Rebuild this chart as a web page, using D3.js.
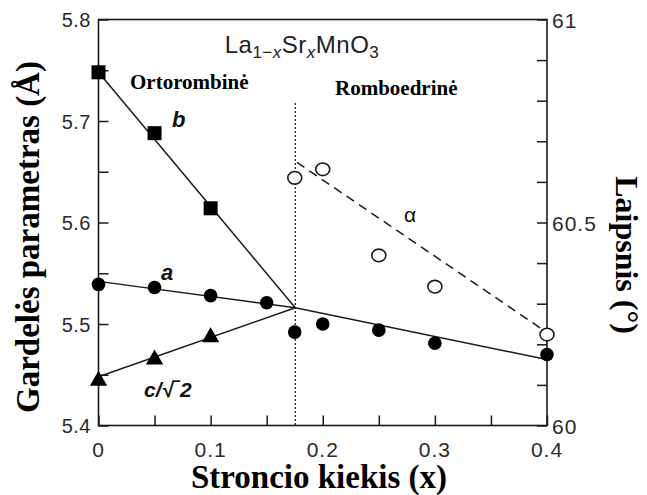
<!DOCTYPE html>
<html>
<head>
<meta charset="utf-8">
<script src="https://cdn.jsdelivr.net/npm/d3@7"></script>
<style>
  html, body { margin: 0; padding: 0; background: #fff; }
  svg { display: block; }
</style>
</head>
<body>
<svg id="chart" width="647" height="495"></svg>
<script>
// Strontium content (x) and lattice parameters of La(1-x)Sr(x)MnO3
const xB = [0, 0.05, 0.1];
const bValues = [5.748, 5.688, 5.614];

const xA = [0, 0.05, 0.1, 0.15, 0.175, 0.2, 0.25, 0.3, 0.4];
const aValues = [5.539, 5.536, 5.528, 5.521, 5.492, 5.500, 5.494, 5.481, 5.470];

const xC = [0, 0.05, 0.1];
const cValues = [5.443, 5.464, 5.486];

// rhombohedral angle (degrees), right axis
const xAlpha = [0.175, 0.2, 0.25, 0.3, 0.4];
const alphaValues = [60.610, 60.631, 60.419, 60.342, 60.224];

// guide lines drawn through the data
const bLine = [[0, 5.748], [0.1755, 5.516]];
const aLine = [[0, 5.542], [0.1755, 5.516], [0.4, 5.465]];
const cLine = [[0, 5.448], [0.1755, 5.516]];
const alphaLine = [[0.177, 60.648], [0.4, 60.229]];
const phaseBoundary = 0.1755;

const xTicks = [0, 0.1, 0.2, 0.3, 0.4];
const xMinorTicks = [0, 0.05, 0.1, 0.15, 0.2, 0.25, 0.3, 0.35, 0.4];
const yTicks = [5.4, 5.5, 5.6, 5.7, 5.8];
const yMinorTicks = [5.4, 5.45, 5.5, 5.55, 5.6, 5.65, 5.7, 5.75, 5.8];
const y2Ticks = [60, 60.5, 61];
const y2MinorTicks = [60, 60.1, 60.2, 60.3, 60.4, 60.5, 60.6, 60.7, 60.8, 60.9, 61];

const svg = d3.select("#chart");
const L = 98.5, R = 547, T = 19.5, B = 425.5;

const x = d3.scaleLinear().domain([0, 0.4]).range([L, R]);
const y = d3.scaleLinear().domain([5.4, 5.8]).range([B, T]);
const y2 = d3.scaleLinear().domain([60, 61]).range([B, T]);

const ink = "#1a1a1a";
const tickFont = "'Liberation Sans', Arial, sans-serif";
const serif = "'Liberation Serif', 'Times New Roman', serif";

// frame
svg.append("rect")
  .attr("x", L).attr("y", T).attr("width", R - L).attr("height", B - T)
  .attr("fill", "none").attr("stroke", ink).attr("stroke-width", 1.6);

// axes (ticks pointing inwards)
const gx = svg.append("g").attr("transform", `translate(0,${B})`)
  .call(d3.axisBottom(x).tickValues(xMinorTicks).tickSize(-10).tickFormat(""));
const gy = svg.append("g").attr("transform", `translate(${L},0)`)
  .call(d3.axisLeft(y).tickValues(yMinorTicks).tickSize(-10).tickFormat(""));
const gy2 = svg.append("g").attr("transform", `translate(${R},0)`)
  .call(d3.axisRight(y2).tickValues(y2MinorTicks).tickSize(-10).tickFormat(""));
[gx, gy, gy2].forEach(g => {
  g.select(".domain").remove();
  g.selectAll("line").attr("stroke", ink).attr("stroke-width", 1.5);
});

// tick labels
svg.append("g").selectAll("text").data(xTicks).join("text")
  .attr("x", d => x(d)).attr("y", 457)
  .attr("text-anchor", "middle")
  .attr("font-family", tickFont).attr("font-size", 21)
  .attr("letter-spacing", 1)
  .attr("fill", "#2a2a2a")
  .text(d => d === 0 ? "0" : d3.format(".1f")(d));

svg.append("g").selectAll("text").data(yTicks).join("text")
  .attr("x", 91).attr("y", d => y(d) + 7.5)
  .attr("text-anchor", "end")
  .attr("font-family", tickFont).attr("font-size", 20)
  .attr("letter-spacing", 0.5)
  .attr("fill", "#2a2a2a")
  .text(d => d3.format(".1f")(d));

svg.append("g").selectAll("text").data(y2Ticks).join("text")
  .attr("x", 552).attr("y", d => y2(d) + 8)
  .attr("text-anchor", "start")
  .attr("font-family", tickFont).attr("font-size", 21)
  .attr("letter-spacing", 1)
  .attr("fill", "#2a2a2a")
  .text(d => d3.format("~g")(d));

// phase boundary
svg.append("line")
  .attr("x1", x(phaseBoundary)).attr("x2", x(phaseBoundary))
  .attr("y1", 103).attr("y2", B)
  .attr("stroke", "#333").attr("stroke-width", 1.4)
  .attr("stroke-dasharray", "2,2");

// guide lines
const lineL = d3.line().x(d => x(d[0])).y(d => y(d[1]));
const lineR = d3.line().x(d => x(d[0])).y(d => y2(d[1]));
[bLine, aLine, cLine].forEach(pts => {
  svg.append("path").attr("d", lineL(pts))
    .attr("fill", "none").attr("stroke", ink).attr("stroke-width", 1.5);
});
svg.append("path").attr("d", lineR(alphaLine))
  .attr("fill", "none").attr("stroke", ink).attr("stroke-width", 1.5)
  .attr("stroke-dasharray", "9,6");

// markers
const sq = d3.symbol().type(d3.symbolSquare).size(196);
svg.append("g").selectAll("path").data(xB.map((v, i) => [v, bValues[i]])).join("path")
  .attr("d", sq).attr("transform", d => `translate(${x(d[0])},${y(d[1])})`)
  .attr("fill", "#000");

svg.append("g").selectAll("circle").data(xA.map((v, i) => [v, aValues[i]])).join("circle")
  .attr("cx", d => x(d[0])).attr("cy", d => y(d[1])).attr("r", 6.8)
  .attr("fill", "#000");

const tri = d3.symbol().type(d3.symbolTriangle).size(130);
svg.append("g").selectAll("path").data(xC.map((v, i) => [v, cValues[i]])).join("path")
  .attr("d", tri).attr("transform", d => `translate(${x(d[0])},${y(d[1]) - 1})`)
  .attr("fill", "#000");

svg.append("g").selectAll("ellipse").data(xAlpha.map((v, i) => [v, alphaValues[i]])).join("ellipse")
  .attr("cx", d => x(d[0])).attr("cy", d => y2(d[1])).attr("rx", 7).attr("ry", 6.3)
  .attr("fill", "#fff").attr("stroke", ink).attr("stroke-width", 1.6);

// compound formula
const title = svg.append("text")
  .attr("x", 302).attr("y", 53).attr("text-anchor", "middle")
  .attr("font-family", tickFont).attr("font-size", 24).attr("fill", "#222")
  .attr("letter-spacing", 0.5);
title.append("tspan").text("La");
title.append("tspan").attr("font-size", 17).attr("dy", 5).text("1−");
title.append("tspan").attr("font-size", 17).attr("font-style", "italic").text("x");
title.append("tspan").attr("dy", -5).text("Sr");
title.append("tspan").attr("font-size", 17).attr("font-style", "italic").attr("dy", 5).text("x");
title.append("tspan").attr("dy", -5).text("MnO");
title.append("tspan").attr("font-size", 17).attr("dy", 5).text("3");

// phase names
svg.append("text").attr("x", 130).attr("y", 89)
  .attr("font-family", serif).attr("font-weight", "bold").attr("font-size", 21)
  .attr("fill", "#000").text("Ortorombinė");
svg.append("text").attr("x", 335).attr("y", 95)
  .attr("font-family", serif).attr("font-weight", "bold").attr("font-size", 21)
  .attr("fill", "#000").text("Romboedrinė");

// series labels
const seriesLabel = (tx, ty, txt, size, italic, bold) =>
  svg.append("text").attr("x", tx).attr("y", ty)
    .attr("font-family", tickFont).attr("font-size", size)
    .attr("font-style", italic ? "italic" : "normal")
    .attr("font-weight", bold ? "bold" : "normal")
    .attr("fill", "#111").text(txt);
seriesLabel(172, 127, "b", 22, true, true);
seriesLabel(161, 280, "a", 22, true, true);
seriesLabel(144, 397, "c/√‾2", 21, true, true);
seriesLabel(404, 222, "α", 21, false, false);

// axis titles
svg.append("text")
  .attr("transform", "translate(39,237) rotate(-90)")
  .attr("text-anchor", "middle")
  .attr("font-family", serif).attr("font-weight", "bold").attr("font-size", 33)
  .attr("fill", "#000").text("Gardelės parametras (Å)");

svg.append("text")
  .attr("transform", "translate(616,255) rotate(90)")
  .attr("text-anchor", "middle")
  .attr("font-family", serif).attr("font-weight", "bold").attr("font-size", 32)
  .attr("fill", "#000").text("Laipsnis (°)");

svg.append("text")
  .attr("x", 319).attr("y", 488)
  .attr("text-anchor", "middle")
  .attr("font-family", serif).attr("font-weight", "bold").attr("font-size", 33)
  .attr("fill", "#000").text("Stroncio kiekis (x)");
</script>
</body>
</html>
